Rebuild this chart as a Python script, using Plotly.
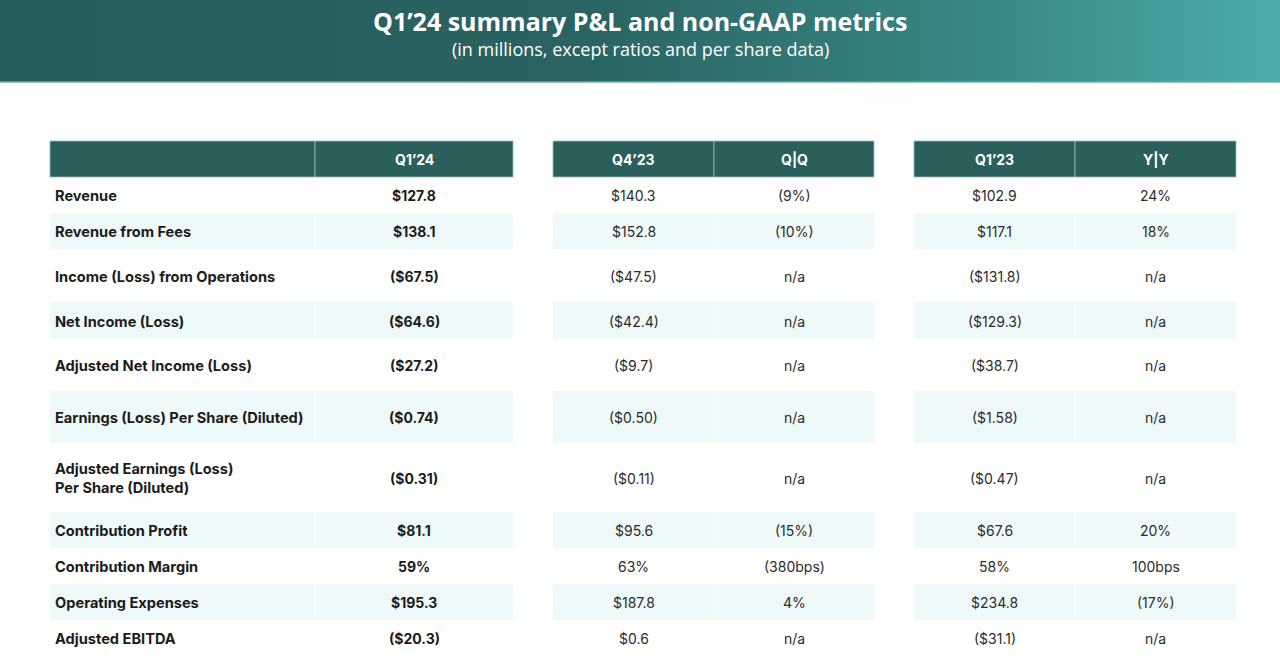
import plotly.graph_objects as go

# ---------------- data ----------------
title = "Q1’24 summary P&L and non-GAAP metrics"
subtitle = "(in millions, except ratios and per share data)"

headers_main = ["", "Q1’24"]
headers_qoq = ["Q4’23", "Q|Q"]
headers_yoy = ["Q1’23", "Y|Y"]

metrics = [
    "Revenue",
    "Revenue from Fees",
    "Income (Loss) from Operations",
    "Net Income (Loss)",
    "Adjusted Net Income (Loss)",
    "Earnings (Loss) Per Share (Diluted)",
    "Adjusted Earnings (Loss)<br>Per Share (Diluted)",
    "Contribution Profit",
    "Contribution Margin",
    "Operating Expenses",
    "Adjusted EBITDA",
]
q1_24 = ["$127.8", "$138.1", "($67.5)", "($64.6)", "($27.2)", "($0.74)",
         "($0.31)", "$81.1", "59%", "$195.3", "($20.3)"]
q4_23 = ["$140.3", "$152.8", "($47.5)", "($42.4)", "($9.7)", "($0.50)",
         "($0.11)", "$95.6", "63%", "$187.8", "$0.6"]
qoq = ["(9%)", "(10%)", "n/a", "n/a", "n/a", "n/a",
       "n/a", "(15%)", "(380bps)", "4%", "n/a"]
q1_23 = ["$102.9", "$117.1", "($131.8)", "($129.3)", "($38.7)", "($1.58)",
         "($0.47)", "$67.6", "58%", "$234.8", "($31.1)"]
yoy = ["24%", "18%", "n/a", "n/a", "n/a", "n/a",
       "n/a", "20%", "100bps", "(17%)", "n/a"]

# ---------------- layout geometry (pixels) ----------------
W, H = 1280, 672
banner_h = 82
header_top, header_bot = 141, 177
row_heights = [36, 36, 53, 37, 52, 52, 69, 36, 36, 36, 36]
# table column edges
t1 = [50, 315, 513]
t2 = [553, 714, 874]
t3 = [914, 1075, 1236]

HEADER_BG = "#2a5f5c"
HEADER_EDGE = "#8cc3bf"
BAND = "#eef9f9"
LABEL_COLOR = "#1b1b1b"
VALUE_COLOR = "#2b2b2b"
BODY_FONT = "Inter"
TITLE_FONT = "Open Sans"

fig = go.Figure()

# banner with gradient
fig.add_trace(go.Scatter(
    x=[0, W, W, 0, 0], y=[0, 0, banner_h, banner_h, 0],
    mode="lines", fill="toself", line=dict(width=0),
    fillgradient=dict(type="horizontal",
                      colorscale=[[0, "#275d5a"], [0.45, "#2a6361"],
                                  [0.75, "#378683"], [1, "#4caba8"]]),
    hoverinfo="skip", showlegend=False))

shapes = []
annotations = []

# banner bottom line
shapes.append(dict(type="line", xref="x", yref="y", x0=0, x1=W,
                   y0=banner_h, y1=banner_h,
                   line=dict(color="#5fb3ae", width=1.5)))

annotations.append(dict(x=W / 2, y=20.5, xref="x", yref="y", text=title,
                        showarrow=False, xanchor="center", yanchor="middle",
                        font=dict(family=TITLE_FONT, size=25, color="white",
                                  weight="bold")))
annotations.append(dict(x=W / 2, y=48.5, xref="x", yref="y", text=subtitle,
                        showarrow=False, xanchor="center", yanchor="middle",
                        font=dict(family=TITLE_FONT, size=18, color="white")))

# row boundaries
tops = []
y = header_bot
for h in row_heights:
    tops.append(y)
    y += h

tables = [(t1, headers_main, [None, q1_24]),
          (t2, headers_qoq, [q4_23, qoq]),
          (t3, headers_yoy, [q1_23, yoy])]

for ti, (edges, hdrs, cols) in enumerate(tables):
    # banded rows
    for i, (top, h) in enumerate(zip(tops, row_heights)):
        if i % 2 == 1:
            shapes.append(dict(type="rect", xref="x", yref="y", layer="below",
                               x0=edges[0], x1=edges[-1], y0=top, y1=top + h,
                               fillcolor=BAND, line=dict(width=0)))
            shapes.append(dict(type="line", xref="x", yref="y", layer="below",
                               x0=edges[1], x1=edges[1], y0=top, y1=top + h,
                               line=dict(color="#f6fcfc", width=1)))
    # header cells
    for c in range(2):
        shapes.append(dict(type="rect", xref="x", yref="y",
                           x0=edges[c], x1=edges[c + 1],
                           y0=header_top, y1=header_bot,
                           fillcolor=HEADER_BG,
                           line=dict(color=HEADER_EDGE, width=0.8)))
        if hdrs[c]:
            annotations.append(dict(
                x=(edges[c] + edges[c + 1]) / 2, y=(header_top + header_bot) / 2,
                xref="x", yref="y", text=hdrs[c], showarrow=False,
                xanchor="center", yanchor="middle",
                font=dict(family=BODY_FONT, size=14, color="white",
                          weight="bold")))
    # cell values
    for c in range(2):
        vals = cols[c]
        if vals is None:
            continue
        bold = (ti == 0)
        for i, v in enumerate(vals):
            annotations.append(dict(
                x=(edges[c] + edges[c + 1]) / 2, y=tops[i] + row_heights[i] / 2 + 0.5,
                xref="x", yref="y", text=v, showarrow=False,
                xanchor="center", yanchor="middle",
                font=dict(family=BODY_FONT, size=14,
                          color=LABEL_COLOR if bold else VALUE_COLOR,
                          weight="bold" if bold else "normal")))

# metric labels
for i, m in enumerate(metrics):
    annotations.append(dict(
        x=t1[0] + 3, y=tops[i] + row_heights[i] / 2 + 1, xref="x", yref="y",
        text=m, showarrow=False, xanchor="left", yanchor="middle", align="left",
        font=dict(family=BODY_FONT, size=14.6, color=LABEL_COLOR, weight="bold")))

fig.update_layout(
    width=W, height=H, margin=dict(l=0, r=0, t=0, b=0),
    paper_bgcolor="white", plot_bgcolor="white",
    xaxis=dict(range=[0, W], visible=False, fixedrange=True),
    yaxis=dict(range=[H, 0], visible=False, fixedrange=True),
    shapes=shapes, annotations=annotations, showlegend=False,
)

fig.write_html(
    "out.html",
    config={"displayModeBar": False},
    post_script="document.body.style.margin='0';document.body.style.overflow='hidden';",
)
